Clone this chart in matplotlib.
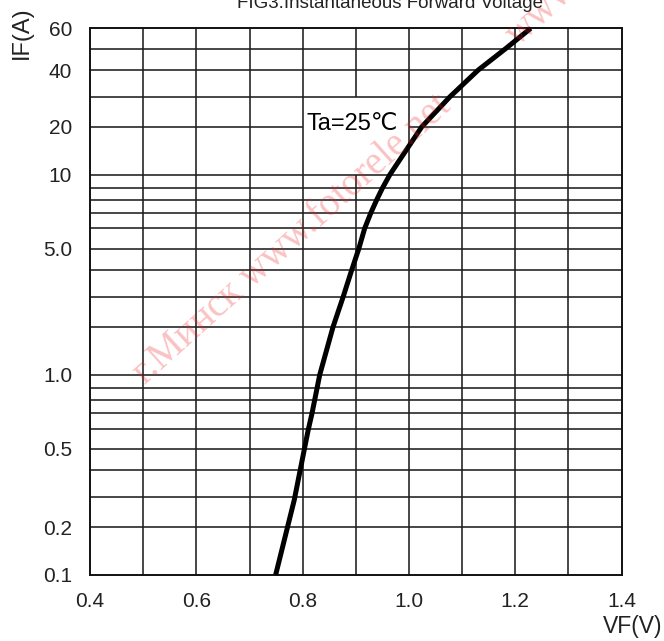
import numpy as np
import matplotlib
matplotlib.use("Agg")
import matplotlib.pyplot as plt

# curve
vf = [0.749, 0.784, 0.810, 0.8175, 0.832, 0.857, 0.876, 0.892, 0.9055,
      0.9165, 0.928, 0.939, 0.950, 0.964, 1.024, 1.077, 1.130, 1.182, 1.229]
i_f = [0.1, 0.29, 0.59, 0.7, 1.0, 2.0, 3.0, 4.0, 5.0,
       6.0, 7.0, 8.0, 9.0, 10, 20, 30, 40, 50, 60]

# the datasheet grid is not a true log grid: where each 1..10 sits in a decade
mant = [1, 2, 3, 4, 5, 6, 7, 8, 9, 10]
frac = [0, 0.239, 0.389, 0.522, 0.630, 0.731, 0.808, 0.873, 0.933, 1.0]

y_ticks = [0.1, 0.2, 0.5, 1.0, 5.0, 10, 20, 40, 60]
y_labels = ["0.1", "0.2", "0.5", "1.0", "5.0", "10", "20", "40", "60"]
x_ticks = [0.4, 0.6, 0.8, 1.0, 1.2, 1.4]
x_labels = ["0.4", "0.6", "0.8", "1.0", "1.2", "1.4"]

y_grid = [0.2, 0.3, 0.4, 0.5, 0.6, 0.7, 0.8, 0.9, 1, 2, 3, 4, 5, 6, 7, 8, 9,
          10, 30, 40, 50]
x_grid = [0.5, 0.6, 0.7, 0.8, 1.0, 1.1, 1.2, 1.3]


def fwd(v):
    v = np.asarray(v, dtype=float)
    v = np.where(v > 0, v, 1e-12)
    d = np.floor(np.log10(v) + 1e-9)
    m = v / 10.0 ** d
    return d + np.interp(m, mant, frac)


def inv(s):
    s = np.asarray(s, dtype=float)
    d = np.floor(s)
    return np.interp(s - d, frac, mant) * 10.0 ** d


narrow = ["Liberation Sans Narrow", "Liberation Sans", "DejaVu Sans"]

fig = plt.figure(figsize=(6.64, 6.41), dpi=100)
ax = fig.add_axes([0.1358, 0.1030, 0.8003, 0.8528])
ax.set_yscale("function", functions=(fwd, inv))
ax.set_xlim(0.4, 1.4)
ax.set_ylim(0.1, 60)

gc = "#1e1e1e"
ax.hlines(y_grid, 0.4, 1.4, color=gc, lw=1.15, zorder=1)
# 20 A line is broken by the temperature label
ax.hlines([20, 20], [0.4, 1.0], [0.8, 1.4], color=gc, lw=1.15, zorder=1)
ax.vlines(x_grid, 0.1, 60, color=gc, lw=1.15, zorder=1)
ax.vlines([0.9, 0.9], [0.1, 30], [10, 60], color=gc, lw=1.15, zorder=1)

ax.plot(vf, i_f, color="black", lw=3.6, solid_capstyle="butt",
        solid_joinstyle="round", zorder=4, clip_on=False)

ax.text(0.807, 21, "Ta=25\u2103", fontsize=17, va="center", ha="left",
        family=["Liberation Sans", "DejaVu Sans"], zorder=3)

for s in ax.spines.values():
    s.set_linewidth(1.4)
    s.set_color("#111111")

ax.set_yticks(y_ticks)
ax.set_yticklabels(y_labels, family=narrow, fontsize=15, color="#222222")
ax.set_xticks(x_ticks)
ax.set_xticklabels(x_labels, family=narrow, fontsize=15, color="#222222")
ax.minorticks_off()
ax.tick_params(axis="both", length=0)
ax.tick_params(axis="y", pad=13)
ax.tick_params(axis="x", pad=12)

fig.text(22 / 664, 1 - 33 / 641, "IF(A)", rotation=90, ha="center",
         va="center", family=narrow, fontsize=17, color="#222222")
fig.text(633 / 664, 1 - 627 / 641, "VF(V)", ha="center", va="center",
         family=narrow, fontsize=16.5, color="#222222")
fig.text(390 / 664, 1 - 8 / 641, "FIG3.Instantaneous Forward Voltage",
         ha="center", va="baseline", family=narrow, fontsize=13.5,
         color="#222222")

# watermark
fig.text(292 / 664, 1 - 240 / 641, "\u0433.\u041c\u0438\u043d\u0441\u043a www.fotorele.net",
         rotation=42, rotation_mode="anchor", ha="center", va="center",
         family=["Liberation Serif", "DejaVu Serif"], fontsize=28,
         color="#ee2222", alpha=0.28, zorder=5)
fig.text(512 / 664, 1 - 40 / 641, "www",
         rotation=42, rotation_mode="anchor", ha="left", va="center",
         family=["Liberation Serif", "DejaVu Serif"], fontsize=28,
         color="#ee2222", alpha=0.28, zorder=5)

fig.savefig("out.png", dpi=100)
